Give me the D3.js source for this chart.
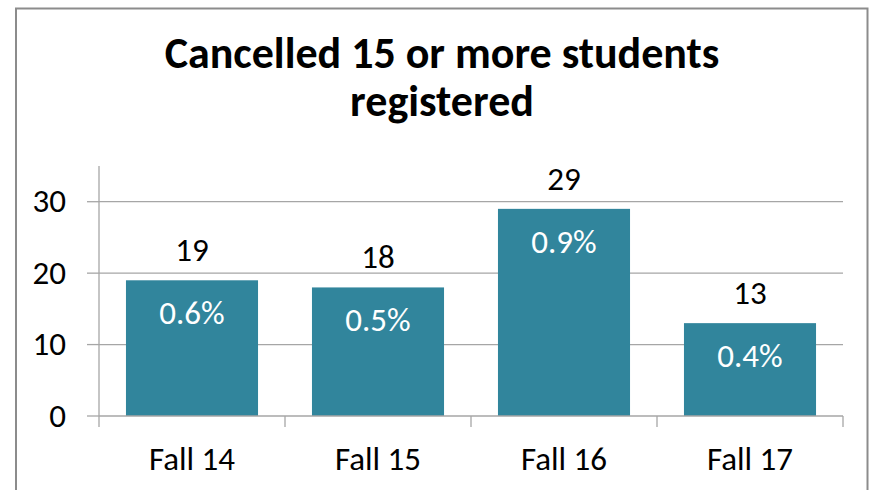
<!DOCTYPE html>
<html lang="en">
	<head>
		<meta charset="utf-8">
		<title>Cancelled 15 or more students registered</title>
		<script src="https://d3js.org/d3.v7.min.js"></script>
		<style>
			body {
				margin: 0;
				background: #ffffff;
			}
			text {
				font-family: Carlito, Calibri, Lato, sans-serif;
				fill: #000000;
			}
			.grid line, .axis line {
				stroke: #a6a6a6;
				stroke-width: 1.3;
			}
			.pct {
				fill: #ffffff;
			}
		</style>
	</head>
	<body>
		<div id="chart"></div>
		<script type="text/javascript">
			// data
			var terms = ["Fall 14", "Fall 15", "Fall 16", "Fall 17"];
			var cancelled = [19, 18, 29, 13];
			var percentLabels = ["0.6%", "0.5%", "0.9%", "0.4%"];
			var yTicks = [0, 10, 20, 30];

			// settings for window
			var w = 873;
			var h = 490;
			var plotLeft = 99, plotRight = 843, plotTop = 166, plotBottom = 416;
			var labelSize = "33px";

			var svg = d3.select("#chart").append("svg").attr("width", w).attr("height", h);

			// outer chart border
			svg.append("rect").attr("x", 16).attr("y", 8.5).attr("width", 851.5).attr("height", 500)
				.attr("fill", "#ffffff").attr("stroke", "#8c8c8c").attr("stroke-width", 2);

			// title
			var title = svg.append("text").attr("text-anchor", "middle").style("font-weight", "bold").style("font-size", "44px");
			title.append("tspan").attr("x", 442).attr("y", 68).text("Cancelled 15 or more students");
			title.append("tspan").attr("x", 442).attr("y", 116).text("registered");

			var xScale = d3.scaleBand().domain(terms).range([plotLeft, plotRight]).paddingInner(0.29).paddingOuter(0.145);
			var yScale = d3.scaleLinear().domain([0, 35]).range([plotBottom, plotTop]);

			// gridlines
			svg.append("g").attr("class", "grid").selectAll("line").data(yTicks.slice(1)).enter().append("line")
				.attr("x1", plotLeft).attr("x2", plotRight)
				.attr("y1", function(d) { return yScale(d); }).attr("y2", function(d) { return yScale(d); });

			// bars
			svg.append("g").selectAll("rect").data(cancelled).enter().append("rect")
				.attr("x", function(d, i) { return xScale(terms[i]); })
				.attr("y", function(d) { return yScale(d); })
				.attr("width", xScale.bandwidth())
				.attr("height", function(d) { return plotBottom - yScale(d); })
				.attr("fill", "#31859c");

			// y axis
			var yAxis = svg.append("g").attr("class", "axis");
			yAxis.append("line").attr("x1", plotLeft).attr("x2", plotLeft).attr("y1", plotTop).attr("y2", plotBottom);
			yAxis.selectAll(".tick").data(yTicks).enter().append("line")
				.attr("x1", plotLeft - 12).attr("x2", plotLeft)
				.attr("y1", function(d) { return yScale(d); }).attr("y2", function(d) { return yScale(d); });
			yAxis.selectAll("text").data(yTicks).enter().append("text")
				.attr("x", 66).attr("y", function(d) { return yScale(d) + 10.5; })
				.attr("text-anchor", "end").style("font-size", labelSize)
				.text(function(d) { return d; });

			// x axis
			var step = xScale.step();
			var xAxis = svg.append("g").attr("class", "axis");
			xAxis.append("line").attr("x1", plotLeft).attr("x2", plotRight).attr("y1", plotBottom).attr("y2", plotBottom);
			xAxis.selectAll(".tick").data(d3.range(terms.length + 1)).enter().append("line")
				.attr("x1", function(i) { return plotLeft + i * step; }).attr("x2", function(i) { return plotLeft + i * step; })
				.attr("y1", plotBottom).attr("y2", plotBottom + 11);
			xAxis.selectAll("text").data(terms).enter().append("text")
				.attr("x", function(d) { return xScale(d) + xScale.bandwidth() / 2; }).attr("y", 470)
				.attr("text-anchor", "middle").style("font-size", labelSize)
				.text(function(d) { return d; });

			// value labels above bars
			svg.append("g").selectAll("text").data(cancelled).enter().append("text")
				.attr("x", function(d, i) { return xScale(terms[i]) + xScale.bandwidth() / 2; })
				.attr("y", function(d) { return yScale(d) - 19; })
				.attr("text-anchor", "middle").style("font-size", labelSize)
				.text(function(d) { return d; });

			// percent labels inside bars
			svg.append("g").selectAll("text").data(percentLabels).enter().append("text")
				.attr("class", "pct")
				.attr("x", function(d, i) { return xScale(terms[i]) + xScale.bandwidth() / 2; })
				.attr("y", function(d, i) { return yScale(cancelled[i]) + 44; })
				.attr("text-anchor", "middle").style("font-size", labelSize)
				.text(function(d) { return d; });
		</script>
	</body>
</html>
